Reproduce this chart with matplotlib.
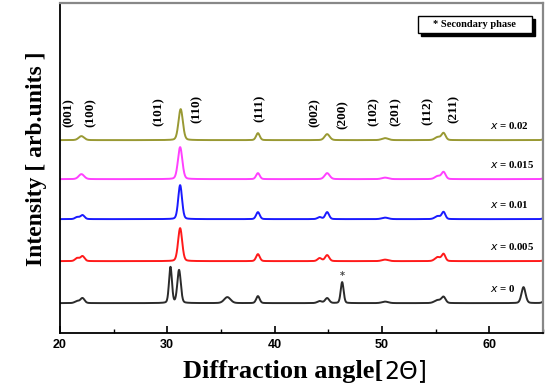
import numpy as np
import matplotlib
matplotlib.use("Agg")
import matplotlib.pyplot as plt
from matplotlib.patches import Rectangle

# ---- data ----
series_labels = ["x = 0", "x = 0.005", "x = 0.01", "x = 0.015", "x = 0.02"]
series_colors = ["#2b2b2b", "#ff1a1a", "#1a1aff", "#ff40ff", "#999933"]
offsets = [30, 72, 114, 154, 193]

# peak positions (2theta), heights (arb.) and FWHM for each series
peaks_x0 = [21.6, 22.1, 30.3, 31.1, 35.6, 38.45, 44.2, 44.9, 46.3, 50.3, 55.2, 55.75, 63.2, 65.3]
heights_x0 = [2, 5, 36, 33, 6, 7, 2, 5, 21, 1.5, 3, 6, 16, 4]
widths_x0 = [0.5, 0.45, 0.32, 0.38, 0.7, 0.38, 0.5, 0.45, 0.32, 0.7, 0.7, 0.45, 0.45, 0.5]

peaks_x005 = [21.6, 22.1, 31.2, 38.45, 44.2, 44.9, 50.3, 55.2, 55.75, 65.3]
heights_x005 = [3, 5, 33, 7, 3, 6, 1.5, 4, 7, 2]
widths_x005 = [0.45, 0.45, 0.45, 0.4, 0.45, 0.45, 0.7, 0.6, 0.4, 0.5]

peaks_x01 = [21.6, 22.1, 31.2, 38.45, 44.2, 44.9, 50.3, 55.2, 55.75, 65.3]
heights_x01 = [2, 4, 34, 7, 2, 7, 1.5, 3, 7, 2]
widths_x01 = [0.45, 0.45, 0.42, 0.4, 0.45, 0.42, 0.7, 0.6, 0.4, 0.5]

peaks_x015 = [22.0, 31.2, 38.45, 44.9, 50.3, 55.2, 55.75, 65.3]
heights_x015 = [5, 32, 6, 6, 1.5, 3, 7, 2]
widths_x015 = [0.6, 0.48, 0.4, 0.55, 0.7, 0.6, 0.45, 0.5]

peaks_x02 = [22.0, 31.25, 38.45, 44.9, 50.3, 55.2, 55.75, 65.3]
heights_x02 = [4, 31, 7, 6, 2, 3, 7, 2]
widths_x02 = [0.6, 0.48, 0.4, 0.55, 0.7, 0.6, 0.45, 0.5]

peak_sets = [
    (peaks_x0, heights_x0, widths_x0),
    (peaks_x005, heights_x005, widths_x005),
    (peaks_x01, heights_x01, widths_x01),
    (peaks_x015, heights_x015, widths_x015),
    (peaks_x02, heights_x02, widths_x02),
]

hkl_labels = ["(001)", "(100)", "(101)", "(110)", "(111)", "(002)", "(200)",
              "(102)", "(201)", "(112)", "(211)"]
hkl_pos = [20.8, 22.9, 29.2, 32.7, 38.6, 43.7, 46.3, 49.2, 51.3, 54.3, 56.7]
label_y = [221, 221, 222, 224, 225, 221, 219, 222, 222, 222, 224]

secondary_peak = 46.3
xticks = [20, 30, 40, 50, 60]

# ---- plotting ----
W, H = 545, 391
fig = plt.figure(figsize=(W / 100, H / 100), dpi=100)
ax = fig.add_axes([0.110, 0.148, 0.886, 0.844])

theta = np.linspace(20, 65, 3000)


def profile(x, centers, hs, ws):
    y = np.zeros_like(x)
    for c, h, w in zip(centers, hs, ws):
        g = np.exp(-4 * np.log(2) * ((x - c) / w) ** 2)
        l = 1.0 / (1 + 4 * ((x - c) / w) ** 2)
        y += h * (0.8 * g + 0.2 * l)
    return y


for (pk, hs, ws), off, col in zip(peak_sets, offsets, series_colors):
    ax.plot(theta, off + profile(theta, pk, hs, ws), color=col, lw=1.4)

for lab, off in zip(series_labels, offsets):
    name, val = lab.split(" = ")
    ax.text(60.1, off + 9, r"$\mathit{x}$" + " = " + val, ha="left", va="bottom",
            fontsize=7.8, fontweight="bold", family="Liberation Serif")

for lab, xp, yp in zip(hkl_labels, hkl_pos, label_y):
    ax.text(xp, yp, lab, rotation=90, ha="center", va="center",
            fontsize=9.5, fontweight="bold", family="Liberation Serif")

ax.text(secondary_peak, 52, "*", ha="center", va="bottom", fontsize=7,
        fontweight="bold", family="DejaVu Sans", color="#444444")

# legend-like box with shadow (pixel geometry converted to axes fraction)
def px2ax(px, py):
    ax0, ay0 = 60, 333
    return (px - ax0) / (543 - ax0), (ay0 - py) / (333 - 3)

bx0, by0 = px2ax(418, 33)
bx1, by1 = px2ax(532, 16)
sx, sy = px2ax(421, 36)
ax.add_patch(Rectangle((sx, sy), bx1 - bx0, by1 - by0, transform=ax.transAxes,
                       fc="black", ec="black", lw=1.0, zorder=4))
ax.add_patch(Rectangle((bx0, by0), bx1 - bx0, by1 - by0, transform=ax.transAxes,
                       fc="white", ec="black", lw=1.0, zorder=5))
ax.text((bx0 + bx1) / 2, (by0 + by1) / 2, "* Secondary phase", transform=ax.transAxes,
        ha="center", va="center", fontsize=7.5, fontweight="bold",
        family="Liberation Serif", zorder=6)

ax.set_xlim(20, 65)
ax.set_ylim(0, 330)
ax.set_xticks(xticks)
ax.set_xticks([25, 35, 45, 55, 65], minor=True)
ax.set_yticks([])
ax.tick_params(axis="x", which="major", direction="in", length=5, width=1.2,
               labelsize=9, pad=4)
ax.tick_params(axis="x", which="minor", direction="in", length=3, width=1.0)
for t in ax.get_xticklabels():
    t.set_fontweight("bold")
    t.set_family("Liberation Sans")

for s in ["left", "bottom"]:
    ax.spines[s].set_color("black")
    ax.spines[s].set_linewidth(1.3)
for s in ["top", "right"]:
    ax.spines[s].set_color("#888888")
    ax.spines[s].set_linewidth(1.6)

fig.text(37 / W, 1 - 159 / H, "Intensity [ arb.units ]", rotation=90,
         ha="center", va="center", fontsize=17, fontweight="bold",
         family="Liberation Serif")

t1 = fig.text(183 / W, 1 - 378 / H, "Diffraction angle[", fontsize=19,
              fontweight="bold", family="Liberation Serif", ha="left",
              va="baseline")
fig.canvas.draw()
ext = t1.get_window_extent()
fig.text(ext.x1 / W + 0.002, 1 - 378 / H, "2\u0398]", fontsize=17,
         fontweight="normal", family="DejaVu Sans", ha="left", va="baseline")

fig.savefig("out.png", dpi=100)
